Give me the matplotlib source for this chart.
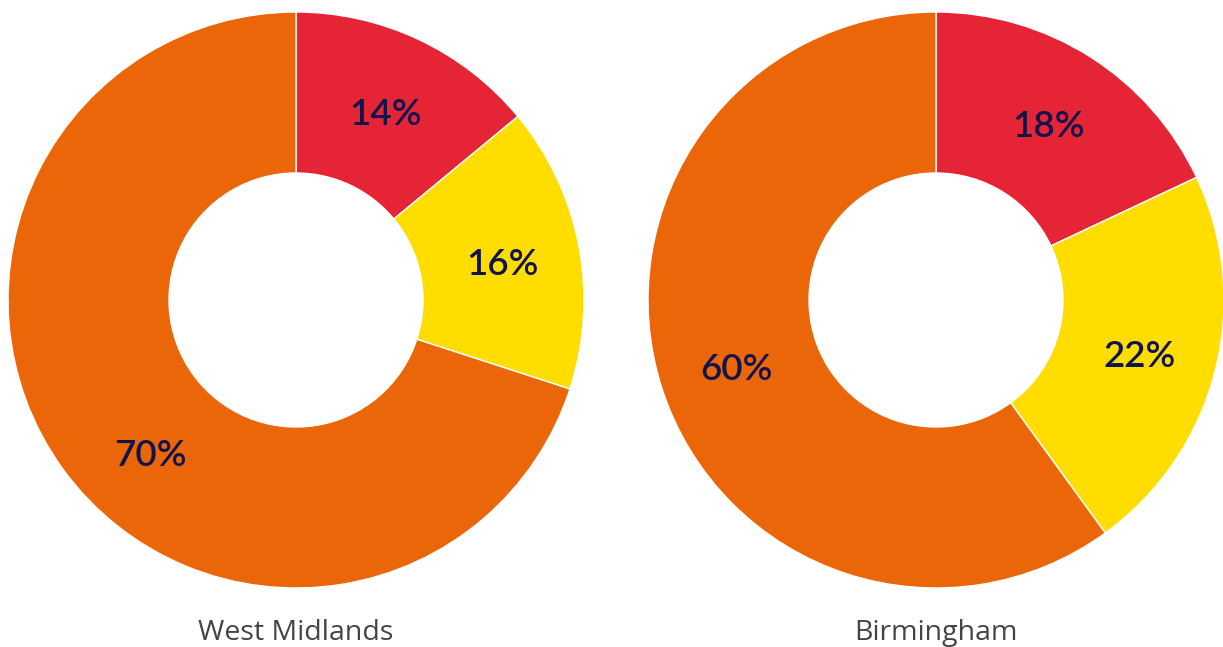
import matplotlib
matplotlib.use("Agg")
import matplotlib.pyplot as plt
import numpy as np

regions = ["West Midlands", "Birmingham"]
segments = ["Red", "Yellow", "Orange"]
west_midlands = [14, 16, 70]
birmingham = [18, 22, 60]
colors = ["#E52535", "#FFDD00", "#EB6608"]
text_color = "#10144A"
label_color = "#444444"

W, H = 1223, 647
fig = plt.figure(figsize=(W / 100, H / 100), dpi=100)

R = 288
centers = [(296, 300), (936, 300)]
# small label nudges (degrees) to mimic the original's label placement
nudges = [[0, 0, 10], [0, 0, 0]]

for (cx, cy), name, vals, nud in zip(centers, regions, [west_midlands, birmingham], nudges):
    ax = fig.add_axes([(cx - R) / W, (H - cy - R) / H, 2 * R / W, 2 * R / H])
    wedges, _ = ax.pie(vals, colors=colors, startangle=90, counterclock=False,
                       radius=1.0, wedgeprops=dict(width=1 - 127 / R, edgecolor="white", linewidth=1))
    ax.set_xlim(-1, 1)
    ax.set_ylim(-1, 1)
    ax.set_aspect("equal")
    ax.axis("off")
    for w, v, n in zip(wedges, vals, nud):
        ang = np.deg2rad((w.theta1 + w.theta2) / 2 + n)
        r = 0.73
        ax.text(r * np.cos(ang), r * np.sin(ang) - 0.015, f"{v}%", ha="center", va="center",
                fontsize=26.5, color=text_color, family="Lato", fontweight="semibold")
    fig.text(cx / W, (H - 633) / H, name, ha="center", va="center",
             fontsize=20.5, color=label_color, family="Open Sans")

fig.savefig("out.png", dpi=100)
